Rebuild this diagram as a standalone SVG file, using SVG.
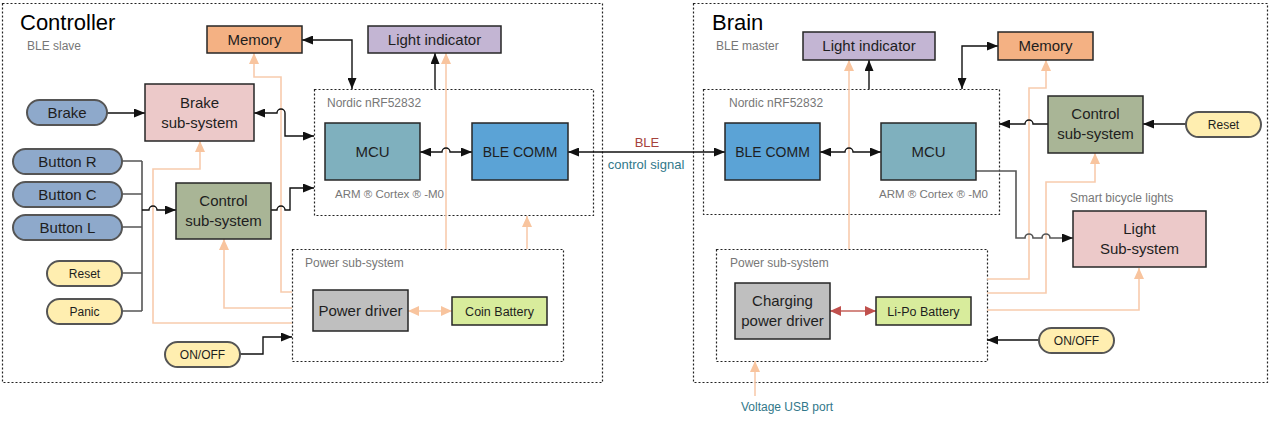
<svg xmlns="http://www.w3.org/2000/svg" width="1270" height="422" viewBox="0 0 1270 422">
<style>
.box{stroke:#262626;stroke-width:1.5}
.pill{stroke:#555;stroke-width:2}
.grp{fill:none;stroke:#222;stroke-width:1.2;stroke-dasharray:2 2}
.t{font-family:"Liberation Sans",Arial,sans-serif;fill:#1e1e1e;text-anchor:middle;font-size:15px}
.s{font-size:12px}
.m{font-size:12.5px}
.lbl{font-family:"Liberation Sans",Arial,sans-serif;fill:#777;font-size:12px}
.title{font-family:"Liberation Sans",Arial,sans-serif;fill:#000;font-size:22px}
.blk{fill:none;stroke:#111;stroke-width:1.4}
.gry{fill:none;stroke:#555;stroke-width:1.6}
.org{fill:none;stroke:#F8CBAD;stroke-width:1.6}
.red{fill:none;stroke:#D48A84;stroke-width:2}
.mem{fill:#F4B183}.lig{fill:#C3B5D3}.mcu{fill:#7FB0BE}.ble{fill:#5BA3D6}
.pink{fill:#ECC9C9}.ctl{fill:#A9B596}.pwr{fill:#BFBFBF}.bat{fill:#D8EC9C}
.btn{fill:#8EA9CB}.yel{fill:#FFEEB0}
</style>
<defs>
<marker id="aB" markerUnits="userSpaceOnUse" markerWidth="11" markerHeight="9" refX="11" refY="4.5" orient="auto-start-reverse"><path d="M0,0 L11,4.5 L0,9 z" fill="#111"/></marker>
<marker id="aO" markerUnits="userSpaceOnUse" markerWidth="11" markerHeight="10" refX="11" refY="5" orient="auto-start-reverse"><path d="M0,0 L11,5 L0,10 z" fill="#F8C49E"/></marker>
<marker id="aR" markerUnits="userSpaceOnUse" markerWidth="11" markerHeight="10" refX="11" refY="5" orient="auto-start-reverse"><path d="M0,0 L11,5 L0,10 z" fill="#C0504D"/></marker>
</defs>

<!-- group containers -->
<g id="controller">
<rect class="grp" x="2.5" y="3.5" width="600" height="379"/>
<text class="title" x="20" y="30">Controller</text>
<text class="lbl" x="27" y="50">BLE slave</text>
</g>
<g id="brain">
<rect class="grp" x="693.5" y="3.5" width="574" height="379"/>
<text class="title" x="712" y="30">Brain</text>
<text class="lbl" x="716" y="50">BLE master</text>
</g>
<g id="nordic-left">
<rect class="grp" x="314.5" y="89.5" width="279" height="126"/>
<text class="lbl" x="327" y="107">Nordic nRF52832</text>
<text class="lbl" x="335" y="198" style="font-size:11.5px">ARM ® Cortex ® -M0</text>
</g>
<g id="nordic-right">
<rect class="grp" x="703.5" y="89.5" width="296" height="125"/>
<text class="lbl" x="729" y="107">Nordic nRF52832</text>
<text class="lbl" x="879" y="198" style="font-size:11.5px">ARM ® Cortex ® -M0</text>
</g>
<g id="power-left">
<rect class="grp" x="292.5" y="249.5" width="271" height="112"/>
<text class="lbl" x="305" y="267">Power sub-system</text>
</g>
<g id="power-right">
<rect class="grp" x="716.5" y="249.5" width="271" height="112"/>
<text class="lbl" x="730" y="267">Power sub-system</text>
</g>
<g id="smart-lights-label"><text class="lbl" x="1070" y="202">Smart bicycle lights</text></g>

<!-- connectors -->
<g id="connectors">
<!-- orange power lines, left -->
<path class="org" d="M292,323 H153 V169 H200 V141" marker-end="url(#aO)"/>
<path class="org" d="M292,308 H224 V239" marker-end="url(#aO)"/>
<path class="org" d="M292,292 H281 V77 H254 V53" marker-end="url(#aO)"/>
<path class="org" d="M446,249 V53" marker-end="url(#aO)"/>
<path class="org" d="M527,249 V216" marker-end="url(#aO)"/>
<path class="org" d="M408,311 H452" marker-start="url(#aO)" marker-end="url(#aO)"/>
<!-- orange power lines, right -->
<path class="org" d="M849,249 V60" marker-end="url(#aO)"/>
<path class="org" d="M987,279 H1029 V88 H1046 V60" marker-end="url(#aO)"/>
<path class="org" d="M987,293 H1046 V182 H1095 V153" marker-end="url(#aO)"/>
<path class="org" d="M987,310 H1139 V268" marker-end="url(#aO)"/>
<path class="org" d="M755,396 V361" marker-end="url(#aO)"/>
<path class="red" d="M830,311 H876" marker-start="url(#aR)" marker-end="url(#aR)"/>

<!-- black, left -->
<path class="gry" d="M122,161 H142 M122,194 H142 M122,227 H142 M122,273 H142 M122,311 H142 M142,161 V311"/>
<path class="blk" d="M142,210 H149 a4,4 0 0 1 8,0 H176" marker-end="url(#aB)"/>
<path class="blk" d="M107,113 H145" marker-end="url(#aB)"/>
<path class="blk" d="M254,113 H277 a4,4 0 0 1 8,0 V136 H314" marker-start="url(#aB)" marker-end="url(#aB)"/>
<path class="blk" d="M271,210 H277 a4,4 0 0 1 8,0 H290 V188 H314" marker-end="url(#aB)"/>
<path class="blk" d="M302,40 H352 V89" marker-start="url(#aB)" marker-end="url(#aB)"/>
<path class="blk" d="M435,89 V53" marker-end="url(#aB)"/>
<path class="blk" d="M420,152 H442 a4,4 0 0 1 8,0 H472" marker-start="url(#aB)" marker-end="url(#aB)"/>
<path class="blk" d="M240,354 H263 V337 H292" marker-end="url(#aB)"/>
<!-- BLE link -->
<path class="blk" d="M568,152 H725" marker-start="url(#aB)" marker-end="url(#aB)"/>
<!-- black, right -->
<path class="blk" d="M820,152 H845 a4,4 0 0 1 8,0 H881" marker-start="url(#aB)" marker-end="url(#aB)"/>
<path class="blk" d="M869,89 V60" marker-end="url(#aB)"/>
<path class="blk" d="M962,89 V46 H998" marker-start="url(#aB)" marker-end="url(#aB)"/>
<path class="blk" d="M999,124 H1025 a4,4 0 0 1 8,0 H1048" marker-start="url(#aB)"/>
<path class="blk" d="M1186,124 H1143" marker-end="url(#aB)"/>
<path class="gry" d="M976,171 H1016 V238 H1025 a4,4 0 0 1 8,0 H1042 a4,4 0 0 1 8,0 H1073" marker-end="url(#aB)"/>
<path class="blk" d="M1039,340 H987" marker-end="url(#aB)"/>
<text class="t" x="647" y="147" style="font-size:13px;fill:#A5423C">BLE</text>
<text class="t" x="646" y="169" style="font-size:13px;fill:#31788A">control signal</text>
<text class="t" x="787" y="411" style="font-size:12px;fill:#31788A">Voltage USB port</text>
</g>

<!-- Controller nodes -->
<g id="memory-l"><rect class="box mem" x="207" y="26" width="95" height="27"/><text class="t" x="254.5" y="45">Memory</text></g>
<g id="light-ind-l"><rect class="box lig" x="368" y="26" width="133" height="27"/><text class="t" x="434.5" y="45">Light indicator</text></g>
<g id="mcu-l"><rect class="box mcu" x="325" y="123" width="95" height="57"/><text class="t" x="372.5" y="157">MCU</text></g>
<g id="blecomm-l"><rect class="box ble" x="472" y="123" width="96" height="57"/><text class="t" x="520" y="157" style="font-size:14px">BLE COMM</text></g>
<g id="brake"><rect class="pill btn" x="27" y="100" width="80" height="25" rx="12.5"/><text class="t" x="67" y="118">Brake</text></g>
<g id="brake-sub"><rect class="box pink" x="145" y="84" width="109" height="57"/><text class="t" x="199.5" y="108">Brake</text><text class="t" x="199.5" y="128">sub-system</text></g>
<g id="button-r"><rect class="pill btn" x="13" y="149" width="109" height="25" rx="12.5"/><text class="t" x="67.5" y="167">Button R</text></g>
<g id="button-c"><rect class="pill btn" x="13" y="182" width="109" height="25" rx="12.5"/><text class="t" x="67.5" y="200">Button C</text></g>
<g id="button-l"><rect class="pill btn" x="13" y="215" width="109" height="25" rx="12.5"/><text class="t" x="67.5" y="233">Button L</text></g>
<g id="reset-l"><rect class="pill yel" x="47" y="261" width="75" height="25" rx="12.5"/><text class="t s" x="84.5" y="278">Reset</text></g>
<g id="panic"><rect class="pill yel" x="47" y="299" width="75" height="25" rx="12.5"/><text class="t s" x="84.5" y="316">Panic</text></g>
<g id="control-l"><rect class="box ctl" x="176" y="183" width="95" height="56"/><text class="t" x="223.5" y="206">Control</text><text class="t" x="223.5" y="226">sub-system</text></g>
<g id="onoff-l"><rect class="pill yel" x="165" y="342" width="75" height="25" rx="12.5"/><text class="t s" x="202.5" y="359">ON/OFF</text></g>
<g id="power-driver"><rect class="box pwr" x="313" y="290" width="95" height="41"/><text class="t" x="360.5" y="316">Power driver</text></g>
<g id="coin-battery"><rect class="box bat" x="452" y="297" width="95" height="28"/><text class="t m" x="499.5" y="316">Coin Battery</text></g>

<!-- Brain nodes -->
<g id="light-ind-r"><rect class="box lig" x="803" y="32" width="132" height="28"/><text class="t" x="869" y="51">Light indicator</text></g>
<g id="memory-r"><rect class="box mem" x="998" y="32" width="95" height="28"/><text class="t" x="1045.5" y="51">Memory</text></g>
<g id="blecomm-r"><rect class="box ble" x="725" y="123" width="95" height="57"/><text class="t" x="772.5" y="157" style="font-size:14px">BLE COMM</text></g>
<g id="mcu-r"><rect class="box mcu" x="881" y="123" width="95" height="57"/><text class="t" x="928.5" y="157">MCU</text></g>
<g id="control-r"><rect class="box ctl" x="1048" y="96" width="95" height="57"/><text class="t" x="1095.5" y="119">Control</text><text class="t" x="1095.5" y="139">sub-system</text></g>
<g id="reset-r"><rect class="pill yel" x="1186" y="112" width="75" height="25" rx="12.5"/><text class="t s" x="1223.5" y="129">Reset</text></g>
<g id="light-sub"><rect class="box pink" x="1073" y="211" width="133" height="56"/><text class="t" x="1139.5" y="234">Light</text><text class="t" x="1139.5" y="254">Sub-system</text></g>
<g id="charging"><rect class="box pwr" x="735" y="283" width="95" height="56"/><text class="t" x="782.5" y="306">Charging</text><text class="t" x="782.5" y="326">power driver</text></g>
<g id="lipo"><rect class="box bat" x="876" y="297" width="95" height="28"/><text class="t m" x="923.5" y="316">Li-Po Battery</text></g>
<g id="onoff-r"><rect class="pill yel" x="1039" y="328" width="75" height="25" rx="12.5"/><text class="t s" x="1076.5" y="345">ON/OFF</text></g>
</svg>
